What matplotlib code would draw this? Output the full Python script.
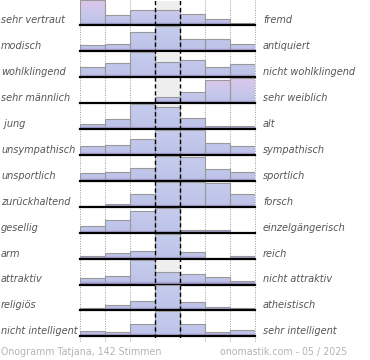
import numpy as np
import matplotlib
matplotlib.use("Agg")
import matplotlib.pyplot as plt
from matplotlib.colors import LinearSegmentedColormap

# --- data ---
left_labels = ["sehr vertraut", "modisch", "wohlklingend", "sehr männlich", " jung",
               "unsympathisch", "unsportlich", "zurückhaltend", "gesellig", "arm",
               "attraktiv", "religiös", "nicht intelligent"]
right_labels = ["fremd", "antiquiert", "nicht wohlklingend", "sehr weiblich", "alt",
                "sympathisch", "sportlich", "forsch", "einzelgängerisch", "reich",
                "nicht attraktiv", "atheistisch", "sehr intelligent"]
# share of votes (%) on the 7-step scale, left to right
votes = [
    [29.3, 12.1, 18.0, 18.0, 12.6, 7.4, 2.7],
    [6.3, 7.9, 22.2, 28.8, 13.4, 13.4, 7.9],
    [9.4, 13.6, 24.0, 14.5, 16.5, 9.4, 12.6],
    [0.0, 0.0, 0.0, 9.3, 16.5, 35.5, 38.6],
    [6.8, 12.4, 32.4, 27.8, 13.7, 3.5, 3.5],
    [8.0, 9.7, 14.9, 23.6, 24.2, 11.0, 8.7],
    [7.6, 8.6, 13.0, 25.9, 24.1, 11.9, 9.0],
    [0.5, 2.9, 12.6, 24.2, 24.2, 23.2, 12.6],
    [9.6, 18.2, 30.1, 34.9, 3.9, 3.3, 0.0],
    [4.2, 10.5, 16.1, 50.9, 12.6, 0.0, 5.7],
    [8.5, 11.8, 33.5, 16.3, 14.5, 10.4, 5.0],
    [4.2, 9.7, 16.0, 44.1, 14.2, 6.8, 5.0],
    [7.9, 7.0, 17.4, 35.8, 17.4, 6.0, 8.5],
]
footer_left = "Onogramm Tatjana, 142 Stimmen"
footer_right = "onomastik.com - 05 / 2025"

W, H = 370, 360
fig = plt.figure(figsize=(W / 100, H / 100), dpi=100)

x0, x1 = 80, 255
top0, pitch, row_h = 25.0, 25.95, 26.0


def box(y_top, h):
    # pixel box (from top) -> figure fraction
    return [x0 / W, 1 - (y_top + h) / H, (x1 - x0) / W, h / H]


# dotted grid behind everything
bg = fig.add_axes(box(0, 341))
bg.set_xlim(0, 7)
bg.set_ylim(0, 1)
bg.axis("off")
for xv in [0, 1, 2, 5, 6, 7]:
    bg.axvline(xv, color="#999999", lw=0.7, ls=(0, (1, 1.5)), clip_on=False)

blue = LinearSegmentedColormap.from_list(
    "b", [(0, "#9c8ec6"), (0.1, "#bec3e9"), (1, "#c7cdee")])
pink = LinearSegmentedColormap.from_list(
    "p", [(0, "#9c8ec6"), (0.1, "#bec3e9"), (0.5, "#cbc9ec"), (1, "#dfc6ea")])
pink_rows = {0, 3}
grad = np.linspace(0, 1, 64).reshape(-1, 1)

txt = dict(fontsize=7, style="italic", color="#555555", va="center")

for i, vals in enumerate(votes):
    base = top0 + i * pitch
    ax = fig.add_axes(box(base - row_h, row_h))
    top = max(vals) * row_h / 25
    ax.axvspan(3, 4, ymax=0.93, color="#eeeeee", lw=0, zorder=0)
    bars = ax.bar(np.arange(7), vals, width=1, align="edge", facecolor="none",
                  edgecolor="#999999", lw=0.8, zorder=3)
    cmap = pink if i in pink_rows else blue
    for b in bars:
        if b.get_height() <= 0:
            continue
        im = ax.imshow(grad, cmap=cmap, origin="lower", aspect="auto",
                       extent=(b.get_x(), b.get_x() + 1, 0, top), zorder=2)
        im.set_clip_path(b)
    ax.axhline(0, color="black", lw=1.6, zorder=4, clip_on=False)
    ax.set_xlim(0, 7)
    ax.set_ylim(0, top)
    ax.axis("off")

    fig.text(1 / W, 1 - (base - 5) / H, left_labels[i], ha="left", **txt)
    fig.text(263 / W, 1 - (base - 5) / H, right_labels[i], ha="left", **txt)

# dashed middle lines on top
ov = fig.add_axes(box(0, 338))
ov.set_xlim(0, 7)
ov.set_ylim(0, 1)
ov.axis("off")
for xv in [3, 4]:
    ov.axvline(xv, color="black", lw=1.0, ls=(0, (3, 2)))

fig.text(1 / W, 1 - 352 / H, footer_left, fontsize=6.85, color="#b4b4b4", va="center")
fig.text(220 / W, 1 - 352 / H, footer_right, fontsize=6.85, color="#b4b4b4", va="center")

fig.savefig("out.png", dpi=100)
